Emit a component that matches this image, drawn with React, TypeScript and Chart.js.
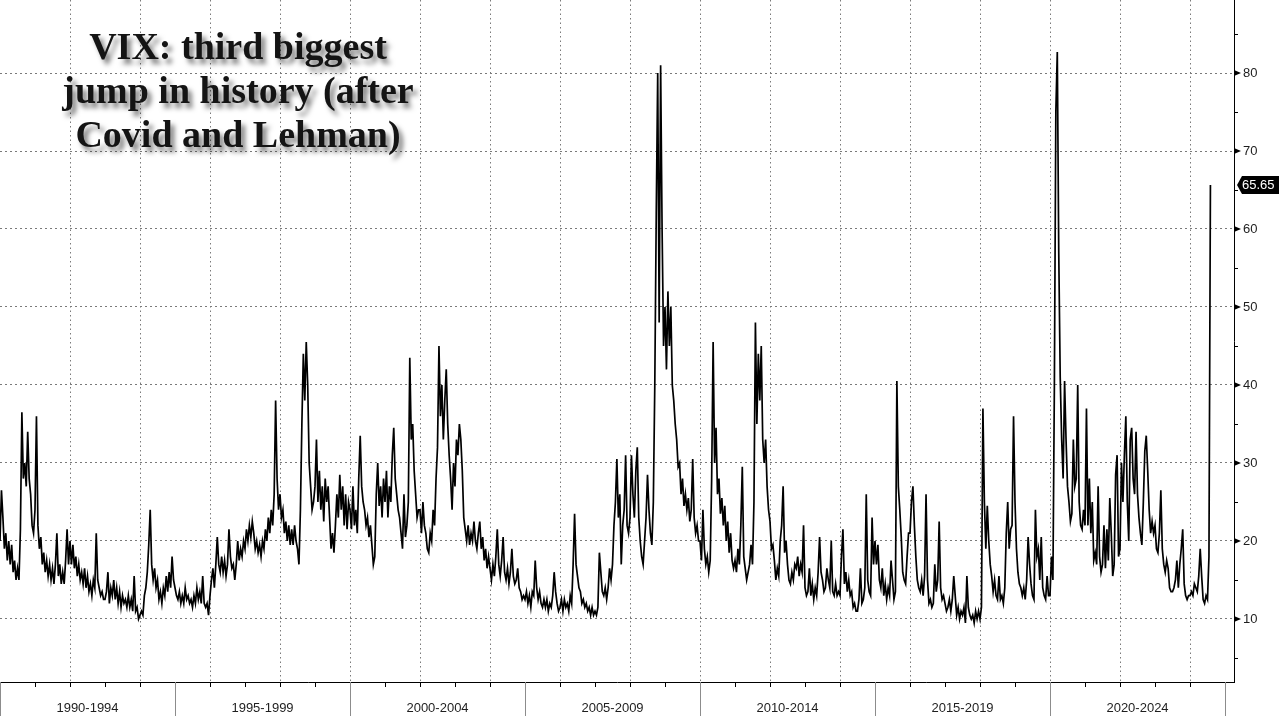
import React, { useEffect, useRef } from "react";
import { Chart, registerables } from "chart.js";

Chart.register(...registerables);

// Semi-monthly VIX readings (24 per year: Jan a, Jan b, Feb a, ... Dec b)
const vix1990 = [20, 26.5, 23, 19, 21, 17.5, 20, 17, 19.5, 16, 17.5, 15, 16.5, 15, 21.5, 36.5, 28, 30, 27, 34, 28, 26, 22, 21];
const vix1991 = [24, 36, 22, 19, 20.5, 17, 18.5, 16, 17.5, 15.5, 17, 15, 16.5, 14.5, 17, 21, 15.5, 17, 14.5, 16, 14.5, 17.5, 21.5, 17];
const vix1992 = [20, 17, 19.5, 16.5, 18, 15.5, 17, 15, 16, 14.5, 16.5, 14, 15.5, 13.5, 14.5, 13, 15, 14, 21, 15, 14, 13, 13.5, 12.5];
const vix1993 = [12.5, 13.5, 16, 12, 14, 13, 15, 12.5, 14, 12, 13.5, 11.5, 13, 12, 12.5, 11.5, 13, 11.5, 12.5, 11, 15.5, 11, 11.5, 10];
const vix1994 = [10.5, 11, 10.5, 13, 14, 16, 19.5, 24, 17, 15, 16.5, 14, 15, 12.5, 13.5, 12, 14, 13, 15.5, 13.5, 16, 14, 18, 15];
const vix1995 = [14, 13, 12.5, 13.5, 12, 13, 12, 14, 12.5, 13, 12, 12.5, 11.5, 13, 12, 14, 12.5, 13.5, 12, 15.5, 12, 11.5, 12, 10.5];
const vix1996 = [13, 15, 16.5, 14, 17, 20.5, 17, 16, 18, 16, 17.5, 15.5, 17, 21.5, 18, 16.5, 17, 15, 17, 20, 17.5, 19, 18, 20];
const vix1997 = [19, 21.5, 20, 22, 20.5, 22.5, 21, 19, 20, 18.5, 19.5, 18, 20, 19, 21.5, 20, 23, 21, 24, 22, 26, 38, 28, 24];
const vix1998 = [26, 23, 24, 21, 22.5, 20, 22, 19.5, 21.5, 19.5, 22, 20, 19, 17, 24, 35, 44, 38, 45.5, 40, 30, 27, 24, 25];
const vix1999 = [27, 33, 25, 29, 24, 27, 22.5, 28, 25, 27, 23, 19, 21, 18.5, 22, 26, 23, 28.5, 24, 27, 22, 26, 21.5, 25];
const vix2000 = [24, 21.5, 27, 22, 24, 21, 28, 33.5, 27, 25, 24, 22, 23, 20.5, 22, 19.5, 17, 18, 26, 30, 24.5, 27, 23, 28];
const vix2001 = [25, 29, 23, 27, 25, 31, 34.5, 28, 26, 24, 23, 21, 19, 26, 20.5, 22, 25, 43.5, 33, 35, 29, 26, 23, 24];
const vix2002 = [24, 21, 25, 22, 21, 19, 18.5, 21, 20, 24, 22, 28, 32, 45, 36, 40, 33, 38, 42, 35, 31, 28, 24, 30];
const vix2003 = [27, 33, 31, 35, 33, 29, 23, 21.5, 20, 22, 19.5, 21, 20, 22.5, 20, 19, 21, 22.5, 19, 20.5, 17.5, 19, 16.5, 18];
const vix2004 = [16.5, 15, 17, 15.5, 18, 21.5, 17, 15.5, 17.5, 20.5, 16, 15, 16.5, 14.5, 16, 19, 15.5, 14.5, 15, 16.5, 14, 13.5, 12.5, 13];
const vix2005 = [12.5, 13.5, 12, 13, 11.5, 13.5, 13, 17.5, 14, 12.5, 13.5, 12, 11.5, 12.5, 11.5, 12.5, 11, 12, 11.5, 13, 16, 13.5, 12, 11];
const vix2006 = [11.5, 12.5, 11, 12.5, 11.5, 12, 11, 13, 12, 17, 23.5, 17, 15.5, 14, 13.5, 12, 12.5, 11.5, 12, 11, 11.5, 10.5, 11.5, 10.5];
const vix2007 = [11, 10.5, 11.5, 18.5, 16, 13.5, 13, 14, 12.5, 14, 16.5, 15, 17, 22, 25, 30.5, 23, 26, 17, 22, 24, 31, 22, 21];
const vix2008 = [23, 31, 26, 23, 29, 32, 23, 20, 18, 17, 20, 23, 28.5, 24, 21, 19.5, 25, 40, 62, 80, 48, 81, 60, 45];
const vix2009 = [50, 42, 52, 45, 50, 40, 38, 35, 33, 29.5, 30, 26, 28, 24.5, 26, 24, 25.5, 22.5, 24, 30.5, 23, 21, 22, 20];
const vix2010 = [20, 17.5, 24, 19, 17, 18, 16, 17.5, 28, 45.5, 30, 34.5, 26, 28, 23.5, 25.5, 22, 24.5, 20, 22.5, 18.5, 21, 17.5, 16.5];
const vix2011 = [17.5, 16, 19, 17, 22, 29.5, 18, 16.5, 15, 16, 17, 19.5, 17, 25, 48, 35, 44, 38, 45, 33, 30, 33, 27, 24];
const vix2012 = [22.5, 19, 19.5, 17.5, 15, 16.5, 15.5, 20, 22, 27, 18.5, 20, 17, 15, 14.5, 16, 15, 17, 16.5, 18, 15.5, 17, 16, 22];
const vix2013 = [14, 13, 13.5, 16.5, 13, 14.5, 12.5, 14, 13, 16, 20.5, 16, 15, 13.5, 14, 16.5, 15, 14, 20, 13.5, 13, 14.5, 13, 13.5];
const vix2014 = [13, 18, 21.5, 14.5, 16, 13.5, 15, 13, 13.5, 11.5, 12, 11, 11, 12.5, 16.5, 12, 12.5, 14, 26, 15, 13.5, 13, 23, 17];
const vix2015 = [20, 17, 19.5, 15, 14, 16.5, 13, 14.5, 12.5, 14, 13, 17.5, 15, 12.5, 13.5, 40.5, 27, 24, 20.5, 16, 15, 14.5, 18, 21];
const vix2016 = [21, 25, 27, 22, 18, 15, 14, 13.5, 15, 13, 15.5, 26, 15, 12, 12.5, 11.5, 12, 17, 13.5, 15, 22.5, 14, 12.5, 13];
const vix2017 = [12, 11, 11.5, 12.5, 11, 12.5, 15.5, 13, 10.5, 11.5, 10, 11, 10.5, 11.5, 9.5, 15.5, 11.5, 10.5, 10, 10.5, 9.5, 11, 10, 11];
const vix2018 = [10, 11.5, 37, 25, 19, 24.5, 20, 17, 15.5, 13.5, 15, 13, 12.5, 15.5, 12.5, 13, 12, 14, 21, 25, 19, 21.5, 22, 36];
const vix2019 = [25, 19, 16, 14.5, 14, 13, 14, 12.5, 15, 20.5, 17, 14.5, 13, 12.5, 24, 18, 19, 15, 20.5, 14, 13, 12.5, 15.5, 13];
const vix2020 = [13, 18, 15, 40, 75, 82.7, 57, 41, 33, 28, 40.5, 33, 27, 25, 22.5, 23.5, 33, 27, 28, 40, 25, 22, 21.5, 24];
const vix2021 = [22, 37, 22, 28, 21, 25, 17.5, 18.5, 17, 27, 18, 16, 17, 22, 16.5, 21.5, 17.5, 25.5, 21, 15.5, 17, 28.5, 31, 18];
const vix2022 = [19, 30, 25, 31, 36, 25, 20, 33, 34.5, 28, 26, 34, 26, 23, 21, 19.5, 25, 31.5, 33.5, 29, 24, 21, 22.5, 21];
const vix2023 = [22, 19, 18.5, 21, 26.5, 19, 17, 16, 17.5, 16.5, 14, 13.5, 13.5, 14, 15, 17.5, 14, 17, 19, 21.5, 14.5, 13, 12.5, 13];
const vix2024 = [13, 13.5, 13, 14.5, 14, 13.5, 15.5, 19, 15.5, 12.5, 12, 13, 12.5, 18, 65.65];

const seriesByYear: [number, number[]][] = [
  [1990, vix1990], [1991, vix1991], [1992, vix1992], [1993, vix1993], [1994, vix1994],
  [1995, vix1995], [1996, vix1996], [1997, vix1997], [1998, vix1998], [1999, vix1999],
  [2000, vix2000], [2001, vix2001], [2002, vix2002], [2003, vix2003], [2004, vix2004],
  [2005, vix2005], [2006, vix2006], [2007, vix2007], [2008, vix2008], [2009, vix2009],
  [2010, vix2010], [2011, vix2011], [2012, vix2012], [2013, vix2013], [2014, vix2014],
  [2015, vix2015], [2016, vix2016], [2017, vix2017], [2018, vix2018], [2019, vix2019],
  [2020, vix2020], [2021, vix2021], [2022, vix2022], [2023, vix2023], [2024, vix2024],
];

const yTickValues = [10, 20, 30, 40, 50, 60, 70, 80];
const yMinorValues = [5, 15, 25, 35, 45, 55, 65, 75, 85];
const gridYears = [1992, 1994, 1996, 1998, 2000, 2002, 2004, 2006, 2008, 2010, 2012, 2014, 2016, 2018, 2020, 2022, 2024];
const periodStarts = [1990, 1995, 2000, 2005, 2010, 2015, 2020];
const periodLabels = ["1990-1994", "1995-1999", "2000-2004", "2005-2009", "2010-2014", "2015-2019", "2020-2024"];
const titleLines = ["VIX: third biggest", "jump in history (after", "Covid and Lehman)"];

const X_MIN = 1990;
const X_MAX = 2025.257;
const Y_MIN = 1.92;
const Y_MAX = 89.36;

const points: { x: number; y: number }[] = [];
seriesByYear.forEach(([yr, vals]) => {
  vals.forEach((v, i) => points.push({ x: yr + i / 24, y: v }));
});
const lastValue = vix2024[vix2024.length - 1];

const AXIS_FONT = '"Liberation Sans", Arial, sans-serif';

const overlayPlugin = {
  id: "overlay",
  afterDraw(chart: any) {
    const { ctx, chartArea, scales } = chart;
    const xs = scales.x;
    const ys = scales.y;
    ctx.save();
    // yearly tick marks below the x axis
    ctx.strokeStyle = "#000";
    ctx.lineWidth = 1;
    for (let yr = 1990; yr <= 2025; yr++) {
      const px = Math.round(xs.getPixelForValue(yr)) + 0.5;
      ctx.beginPath();
      ctx.moveTo(px, chartArea.bottom);
      ctx.lineTo(px, chartArea.bottom + 5);
      ctx.stroke();
    }
    // period separators
    ctx.strokeStyle = "#8c8c8c";
    [...periodStarts, 2025].forEach((yr) => {
      const px = Math.round(xs.getPixelForValue(yr)) + 0.5;
      ctx.beginPath();
      ctx.moveTo(px, chartArea.bottom);
      ctx.lineTo(px, chart.height);
      ctx.stroke();
    });
    // period labels
    ctx.fillStyle = "#1e1e1e";
    ctx.font = `13px ${AXIS_FONT}`;
    ctx.textAlign = "center";
    ctx.textBaseline = "middle";
    periodLabels.forEach((lab, k) => {
      ctx.fillText(lab, xs.getPixelForValue(periodStarts[k] + 2.5), chartArea.bottom + 26.5);
    });
    // y-axis markers: arrows at major, short ticks at minor
    ctx.fillStyle = "#000";
    yTickValues.forEach((v) => {
      const py = ys.getPixelForValue(v);
      ctx.beginPath();
      ctx.moveTo(chartArea.right, py - 3);
      ctx.lineTo(chartArea.right + 7, py);
      ctx.lineTo(chartArea.right, py + 3);
      ctx.closePath();
      ctx.fill();
    });
    ctx.strokeStyle = "#000";
    yMinorValues.forEach((v) => {
      const py = Math.round(ys.getPixelForValue(v)) + 0.5;
      ctx.beginPath();
      ctx.moveTo(chartArea.right, py);
      ctx.lineTo(chartArea.right + 4, py);
      ctx.stroke();
    });
    // last value tag
    const ty = ys.getPixelForValue(lastValue);
    const tx = chartArea.right + 3;
    ctx.fillStyle = "#000";
    ctx.beginPath();
    ctx.moveTo(tx, ty);
    ctx.lineTo(tx + 5, ty - 9);
    ctx.lineTo(chart.width, ty - 9);
    ctx.lineTo(chart.width, ty + 9);
    ctx.lineTo(tx + 5, ty + 9);
    ctx.closePath();
    ctx.fill();
    ctx.fillStyle = "#fff";
    ctx.font = `13px ${AXIS_FONT}`;
    ctx.textAlign = "left";
    ctx.textBaseline = "middle";
    ctx.fillText(lastValue.toFixed(2), tx + 5, ty + 0.5);
    ctx.restore();
  },
};

export default function App() {
  const ref = useRef<HTMLCanvasElement>(null);

  useEffect(() => {
    if (!ref.current) return;
    const chart = new Chart(ref.current, {
      type: "line",
      data: {
        datasets: [
          {
            label: "VIX",
            data: points,
            borderColor: "#000",
            borderWidth: 1.7,
            pointRadius: 0,
            tension: 0,
            fill: false,
          },
        ],
      },
      options: {
        animation: false,
        responsive: false,
        devicePixelRatio: 1,
        parsing: false,
        events: [],
        layout: { padding: 0 },
        plugins: { legend: { display: false }, tooltip: { enabled: false }, title: { display: false } },
        scales: {
          x: {
            type: "linear",
            min: X_MIN,
            max: X_MAX,
            afterBuildTicks: (scale: any) => {
              scale.ticks = gridYears.map((v) => ({ value: v }));
            },
            afterFit: (scale: any) => {
              scale.height = 34;
              scale.paddingLeft = 0;
              scale.paddingRight = 0;
            },
            ticks: { display: false },
            grid: { display: true, drawTicks: false, color: "#7a7a7a", lineWidth: 1 },
            border: { display: true, color: "#000", width: 1, dash: [1.5, 3] },
          },
          y: {
            type: "linear",
            position: "right",
            min: Y_MIN,
            max: Y_MAX,
            afterBuildTicks: (scale: any) => {
              scale.ticks = yTickValues.map((v) => ({ value: v }));
            },
            afterFit: (scale: any) => {
              scale.width = 45;
              scale.paddingTop = 0;
              scale.paddingBottom = 0;
            },
            ticks: {
              padding: 9,
              color: "#1e1e1e",
              font: { family: AXIS_FONT, size: 13 },
              callback: (v: any) => String(v),
            },
            grid: { display: true, drawTicks: false, color: "#7a7a7a", lineWidth: 1 },
            border: { display: true, color: "#000", width: 1, dash: [2, 3] },
          },
        },
      },
      plugins: [overlayPlugin],
    } as any);
    return () => chart.destroy();
  }, []);

  return (
    <div
      style={{
        position: "absolute",
        left: 0,
        top: 0,
        width: 1279,
        height: 716,
        background: "#fff",
        overflow: "hidden",
      }}
    >
      <canvas ref={ref} width={1279} height={716} style={{ display: "block", width: 1279, height: 716 }} />
      <div
        style={{
          position: "absolute",
          left: 0,
          top: 24,
          width: 476,
          textAlign: "center",
          fontFamily: '"Liberation Serif", "Times New Roman", serif',
          fontWeight: "bold",
          fontSize: 38,
          lineHeight: "44px",
          color: "#141414",
          textShadow: "4px 5px 5px rgba(0,0,0,0.5)",
          whiteSpace: "nowrap",
          pointerEvents: "none",
        }}
      >
        {titleLines.map((t, i) => (
          <div key={i}>{t}</div>
        ))}
      </div>
    </div>
  );
}
